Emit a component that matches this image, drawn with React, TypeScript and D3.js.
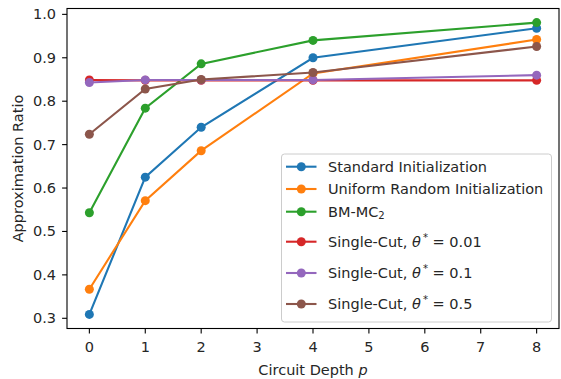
import React from "react";
import * as d3 from "d3";

const depths = [0, 1, 2, 4, 8];
const standardInit = [0.309, 0.625, 0.74, 0.9, 0.968];
const uniformInit = [0.367, 0.571, 0.686, 0.864, 0.942];
const bmMc2 = [0.543, 0.784, 0.886, 0.94, 0.981];
const singleCut001 = [0.849, 0.848, 0.848, 0.848, 0.848];
const singleCut01 = [0.843, 0.849, 0.849, 0.849, 0.86];
const singleCut05 = [0.724, 0.828, 0.85, 0.866, 0.926];

const xTicks = [0, 1, 2, 3, 4, 5, 6, 7, 8];
const yTicks = [0.3, 0.4, 0.5, 0.6, 0.7, 0.8, 0.9, 1.0];

type Series = { key: string; color: string; values: number[] };

const series: Series[] = [
  { key: "standard", color: "#1f77b4", values: standardInit },
  { key: "uniform", color: "#ff7f0e", values: uniformInit },
  { key: "bm", color: "#2ca02c", values: bmMc2 },
  { key: "sc001", color: "#d62728", values: singleCut001 },
  { key: "sc01", color: "#9467bd", values: singleCut01 },
  { key: "sc05", color: "#8c564b", values: singleCut05 },
];

const W = 561;
const H = 379;
const left = 67;
const right = 559;
const top = 8.5;
const bottom = 328.5;
const font = "DejaVu Sans, sans-serif";
const fs = 14.5;
const textColor = "#262626";

const xScale = d3.scaleLinear().domain([-0.4, 8.4]).range([left, right]);
const yScale = d3.scaleLinear().domain([0.2765, 1.0135]).range([bottom, top]);

function LegendLabel({ k, x, y }: { k: string; x: number; y: number }) {
  const common = { x, y, fontFamily: font, fontSize: fs, fill: textColor, dominantBaseline: "central" as const };
  if (k === "standard") return <text {...common}>Standard Initialization</text>;
  if (k === "uniform") return <text {...common}>Uniform Random Initialization</text>;
  if (k === "bm")
    return (
      <text {...common}>
        BM-MC
        <tspan fontSize={fs * 0.7} dy={3}>2</tspan>
      </text>
    );
  const val = k === "sc001" ? "0.01" : k === "sc01" ? "0.1" : "0.5";
  return (
    <text {...common}>
      Single-Cut,{" "}
      <tspan fontStyle="italic">θ</tspan>
      <tspan fontSize={fs * 0.7} dy={-5} dx={2}>*</tspan>
      <tspan dy={5}>{" = " + val}</tspan>
    </text>
  );
}

export default function App() {
  const line = d3
    .line<[number, number]>()
    .x((d) => xScale(d[0]))
    .y((d) => yScale(d[1]));

  const legendX = 281.5;
  const legendY = 154;
  const legendW = 270;
  const legendH = 168;
  const rowY = [166.7, 189, 211.7, 241.7, 273, 304];

  return (
    <svg
      width={W}
      height={H}
      style={{ position: "absolute", left: 0, top: 0, background: "#fff" }}
    >
      <rect x={0} y={0} width={W} height={H} fill="#fff" />
      {/* data lines and markers */}
      {series.map((s) => {
        const pts = depths.map((d, i) => [d, s.values[i]] as [number, number]);
        return (
          <g key={s.key}>
            <path d={line(pts) || ""} fill="none" stroke={s.color} strokeWidth={2.1} />
            {pts.map((p, i) => (
              <circle key={i} cx={xScale(p[0])} cy={yScale(p[1])} r={4.5} fill={s.color} />
            ))}
          </g>
        );
      })}

      {/* axes frame */}
      <rect
        x={left}
        y={top}
        width={right - left}
        height={bottom - top}
        fill="none"
        stroke="#000"
        strokeWidth={1.1}
      />

      {/* x ticks */}
      {xTicks.map((t) => (
        <g key={"x" + t}>
          <line x1={xScale(t)} x2={xScale(t)} y1={bottom} y2={bottom + 4.9} stroke="#000" strokeWidth={1.1} />
          <text
            x={xScale(t)}
            y={bottom + 18}
            textAnchor="middle"
            dominantBaseline="central"
            fontFamily={font}
            fontSize={fs}
            fill={textColor}
          >
            {t}
          </text>
        </g>
      ))}

      {/* y ticks */}
      {yTicks.map((t) => (
        <g key={"y" + t}>
          <line x1={left - 4.9} x2={left} y1={yScale(t)} y2={yScale(t)} stroke="#000" strokeWidth={1.1} />
          <text
            x={left - 11}
            y={yScale(t)}
            textAnchor="end"
            dominantBaseline="central"
            fontFamily={font}
            fontSize={fs}
            fill={textColor}
          >
            {t.toFixed(1)}
          </text>
        </g>
      ))}

      {/* axis labels */}
      <text
        x={(left + right) / 2}
        y={370}
        textAnchor="middle"
        dominantBaseline="central"
        fontFamily={font}
        fontSize={fs}
        fill={textColor}
      >
        Circuit Depth <tspan fontStyle="italic">p</tspan>
      </text>
      <text
        transform={`translate(18,${(top + bottom) / 2}) rotate(-90)`}
        textAnchor="middle"
        dominantBaseline="central"
        fontFamily={font}
        fontSize={fs}
        fill={textColor}
      >
        Approximation Ratio
      </text>

      {/* legend */}
      <rect
        x={legendX}
        y={legendY}
        width={legendW}
        height={legendH}
        rx={3}
        fill="#fff"
        fillOpacity={0.8}
        stroke="#cccccc"
        strokeWidth={1}
      />
      {series.map((s, i) => (
        <g key={"lg" + s.key}>
          <line x1={286} x2={316.5} y1={rowY[i]} y2={rowY[i]} stroke={s.color} strokeWidth={2.1} />
          <circle cx={301.3} cy={rowY[i]} r={4.5} fill={s.color} />
          <LegendLabel k={s.key} x={328} y={rowY[i]} />
        </g>
      ))}
    </svg>
  );
}
